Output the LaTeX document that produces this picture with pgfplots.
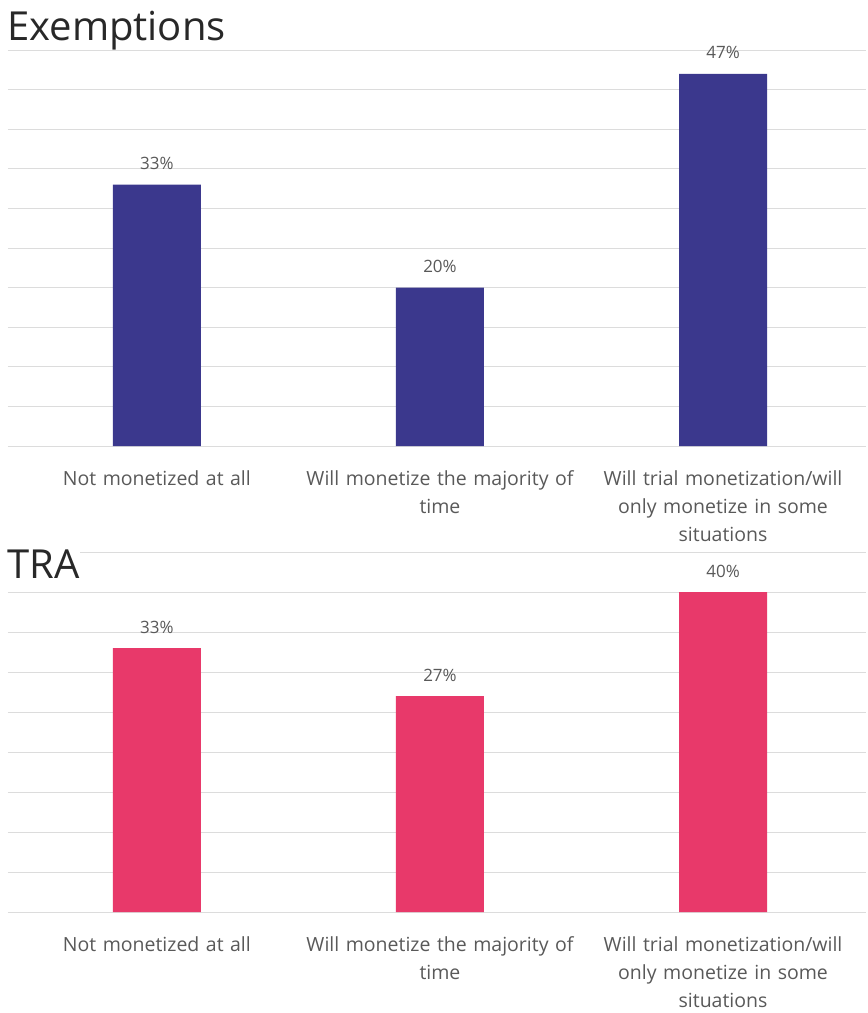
\documentclass[border=0pt]{standalone}
\usepackage{pgfplots}
\pgfplotsset{compat=1.18}
\usepackage{fontspec}
\setmainfont{Open Sans}
\definecolor{navy}{RGB}{59,56,141}
\definecolor{pinkc}{RGB}{232,57,106}
\definecolor{lblgray}{RGB}{89,89,89}
\definecolor{gridc}{RGB}{220,220,220}
\definecolor{titlec}{RGB}{40,40,40}
\pgfplotsset{
  mystyle/.style={
    scale only axis, width=858pt, xmin=-0.526, xmax=2.505, ymin=0,
    axis line style={draw=none},
    ymajorgrids, grid style={gridc, line width=1pt},
    yticklabels={}, ytick style={draw=none}, xtick style={draw=none},
    xtick={0,1,2},
    xticklabels={{Not monetized at all},{Will monetize the majority of\\time},{Will trial monetization/will\\only monetize in some\\situations}},
    xticklabel style={font=\fontsize{19.5}{28}\selectfont, text width=290pt, align=center, text=lblgray, anchor=north, inner sep=0pt, yshift=-20pt},
    ybar, bar width=88pt,
    /pgf/number format/assume math mode=true,
    nodes near coords={\pgfmathprintnumber{\pgfplotspointmeta}\%},
    every node near coord/.append style={font=\fontsize{17}{20}\selectfont, text=lblgray, anchor=base, inner sep=0pt, yshift=15pt},
    clip=false,
  }
}
\begin{document}
\begin{tikzpicture}[x=1pt,y=1pt]
\useasboundingbox (0pt,0pt) rectangle (868pt,-1013pt);
\node[anchor=base west, inner sep=0pt, font=\fontsize{40}{44}\selectfont, text=titlec] at (7pt,-40pt) {Exemptions};
\begin{axis}[mystyle, at={(8pt,-446pt)}, anchor=south west, height=396pt, ymax=50, ytick={0,5,...,50}]
\addplot[fill=navy, draw=none] coordinates {(0,33) (1,20) (2,47)};
\end{axis}
\begin{axis}[mystyle, at={(8pt,-912pt)}, anchor=south west, height=360pt, ymax=45, ytick={0,5,...,45}]
\addplot[fill=pinkc, draw=none] coordinates {(0,33) (1,27) (2,40)};
\end{axis}
\node[anchor=base west, inner sep=1pt, fill=white, font=\fontsize{40}{44}\selectfont, text=titlec] at (6pt,-578pt) {TRA};
\end{tikzpicture}
\end{document}
